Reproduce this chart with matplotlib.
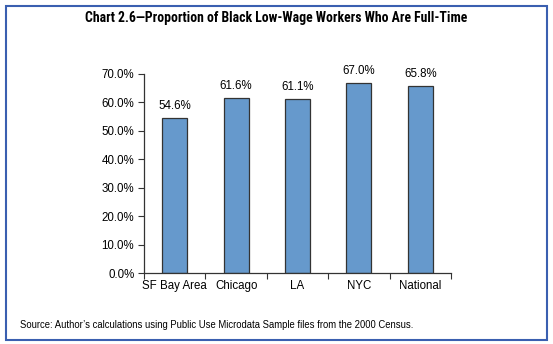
import matplotlib
matplotlib.use("Agg")
import matplotlib.pyplot as plt
from matplotlib.patches import Rectangle
from matplotlib.ticker import FuncFormatter, MultipleLocator

categories = ["SF Bay Area", "Chicago", "LA", "NYC", "National"]
values = [54.6, 61.6, 61.1, 67.0, 65.8]
title = "Chart 2.6\u2014Proportion of Black Low-Wage Workers Who Are Full-Time"
source = "Source: Author\u2019s calculations using Public Use Microdata Sample files from the 2000 Census."

W, H = 553, 344
fig = plt.figure(figsize=(W/100, H/100), dpi=100)
fam = ["Liberation Sans", "DejaVu Sans"]
tfam = ["Roboto Condensed", "Liberation Sans", "DejaVu Sans"]

# frame
fig.add_artist(Rectangle((6/W, 1 - 340/H), (547-6)/W, (340-6)/H, transform=fig.transFigure,
                         fill=False, edgecolor="#3A5FB0", linewidth=1.5))

ax = fig.add_axes([144/W, 1 - 273/H, (451-144)/W, (273-74)/H])
x = list(range(len(categories)))
ax.bar(x, values, width=0.41, color="#6699CC", edgecolor="#333333", linewidth=0.9)
for xi, v in zip(x, values):
    ax.annotate(f"{v:.1f}%", (xi, v), xytext=(0, 6.5), textcoords="offset points",
                ha="center", va="baseline", fontsize=8.3, family=fam)

ax.set_xlim(-0.5, len(categories) - 0.5)
ax.set_ylim(0, 70)
ax.yaxis.set_major_locator(MultipleLocator(10))
ax.yaxis.set_major_formatter(FuncFormatter(lambda v, p: f"{v:.1f}%"))
ax.set_xticks([i - 0.5 for i in range(len(categories) + 1)])
ax.set_xticklabels([])
ax.set_xticks(x, minor=True)
ax.set_xticklabels(categories, minor=True)
ax.tick_params(axis="x", which="minor", length=0, pad=5, labelsize=8.3)
ax.tick_params(axis="x", which="major", length=4, direction="out", color="#333333")
ax.tick_params(axis="y", length=4, direction="out", labelsize=8.3, color="#333333", pad=3)
for lab in ax.get_xticklabels(minor=True) + ax.get_yticklabels():
    lab.set_family(fam)
for s in ["top", "right"]:
    ax.spines[s].set_visible(False)
for s in ["left", "bottom"]:
    ax.spines[s].set_color("#333333")
    ax.spines[s].set_linewidth(0.9)

t = fig.text(276/W, 1 - 18/H, title, ha="center", va="center", fontsize=10,
             fontweight="bold", family=tfam)
s = fig.text(20/W, 1 - 325/H, source, ha="left", va="center", fontsize=7, family=fam)

r = fig.canvas.get_renderer()
for txt, target in [(t, 384), (s, 395)]:
    w = txt.get_window_extent(r).width
    txt.set_fontsize(txt.get_fontsize() * target / w)

fig.savefig("out.png", dpi=100)
